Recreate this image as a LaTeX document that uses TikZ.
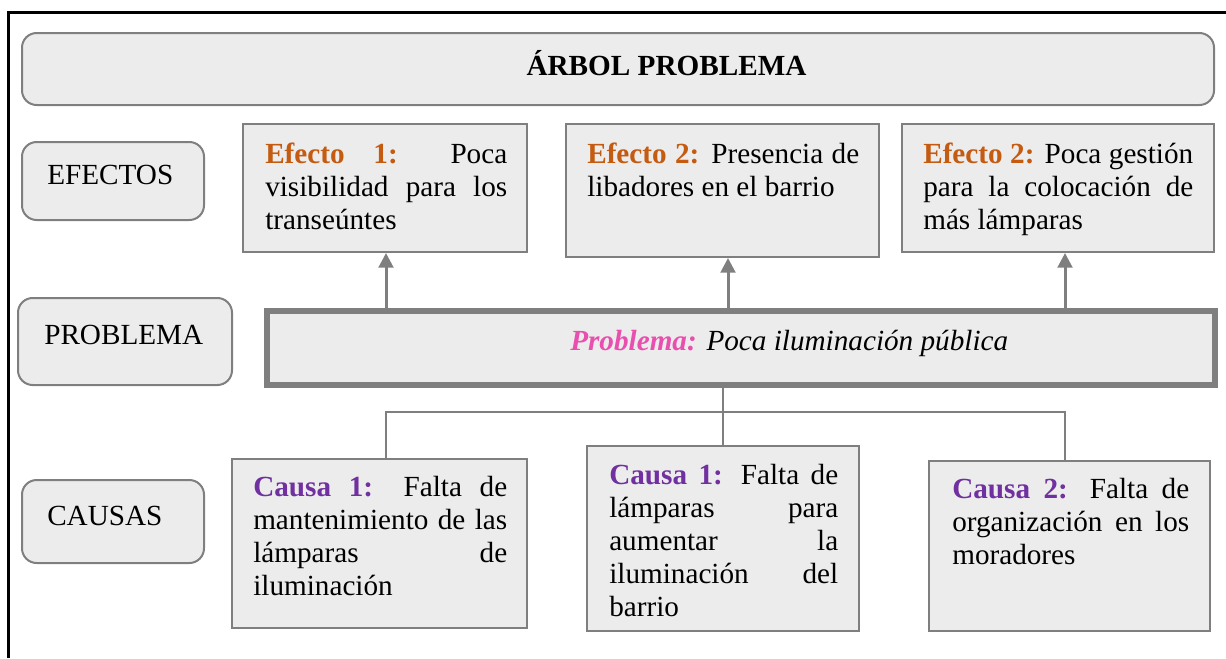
\documentclass[tikz,border=0pt]{standalone}
\usepackage{fontspec}
\setmainfont{Liberation Serif}
\usetikzlibrary{arrows.meta}
\definecolor{boxfill}{HTML}{ECECEC}
\definecolor{boxline}{HTML}{7F7F7F}
\definecolor{efc}{HTML}{C55A11}
\definecolor{cau}{HTML}{7030A0}
\definecolor{prb}{HTML}{E84FAE}
\hbadness=10000
\begin{document}
\begin{tikzpicture}[x=0.75pt,y=-0.75pt,
  every node/.style={font=\fontsize{21.9pt}{24.75pt}\selectfont},
  lblbox/.style={draw=boxline, fill=boxfill, line width=1.5pt, rounded corners=11pt, inner sep=0pt},
  sqbox/.style={draw=boxline, fill=boxfill, line width=1.5pt, inner sep=0pt},
  probbox/.style={draw=boxline, fill=boxfill, line width=4.5pt, inner sep=0pt},
  txt/.style={inner sep=0pt, anchor=base west, align=justify},
  lbltxt/.style={inner sep=0pt, anchor=base west},
  arr/.style={draw=boxline, line width=2.25pt, -{Triangle[length=11pt,width=11pt]}},
  conn/.style={draw=boxline, line width=1.9pt},
  frame/.style={draw=black, line width=2.25pt}
]
\useasboundingbox (0,0) rectangle (1226,658);
\draw[frame] (8,658) -- (8,12) -- (1226,12);

% title
\node[lblbox, minimum width=894pt, minimum height=54pt] (title) at (618,69) {};
\node[lbltxt, anchor=base] (titlet) at (666.5,75) {\textbf{ÁRBOL PROBLEMA}};

% row labels
\node[lblbox, minimum width=136.5pt, minimum height=58.5pt] (lef) at (113,181) {};
\node[lbltxt] (left) at (47,184) {EFECTOS};
\node[lblbox, minimum width=160.5pt, minimum height=65.25pt] (lpr) at (125,341.5) {};
\node[lbltxt] (lprt) at (44,344) {PROBLEMA};
\node[lblbox, minimum width=136.5pt, minimum height=62.25pt] (lca) at (113,521.5) {};
\node[lbltxt] (lcat) at (47,525) {CAUSAS};

% effects
\node[sqbox, minimum width=213pt, minimum height=96pt] (e1) at (385,188) {};
\node[txt, text width=181.5pt] (e1t) at (265,163)
  {\textbf{\color{efc}Efecto 1:} Poca\linebreak visibilidad para los\linebreak transeúntes};
\node[sqbox, minimum width=234.75pt, minimum height=99.75pt] (e2) at (722.5,190.5) {};
\node[txt, text width=204pt] (e2t) at (587,163)
  {\textbf{\color{efc}Efecto 2:} Presencia de\linebreak libadores en el barrio};
\node[sqbox, minimum width=234pt, minimum height=96pt] (e3) at (1058,188) {};
\node[txt, text width=202.5pt] (e3t) at (923,163)
  {\textbf{\color{efc}Efecto 2:} Poca gestión\linebreak para la colocación de\linebreak más lámparas};

% problem
\node[probbox, minimum width=711pt, minimum height=55.5pt] (prob) at (741,348) {};
\node[lbltxt] (probt) at (570,350)
  {\textit{\textbf{\color{prb}Problema:}} \textit{Poca iluminación pública}};

% causes
\node[sqbox, minimum width=221.25pt, minimum height=126.75pt] (c1) at (379.5,543.5) {};
\node[txt, text width=190.5pt] (c1t) at (253,496)
  {\textbf{\color{cau}Causa 1:} Falta de\linebreak mantenimiento de las\linebreak lámparas de\linebreak iluminación};
\node[sqbox, minimum width=204pt, minimum height=138.75pt] (c2) at (723,538.5) {};
\node[txt, text width=171.75pt] (c2t) at (609,484)
  {\textbf{\color{cau}Causa 1:} Falta de\linebreak lámparas para\linebreak aumentar la\linebreak iluminación del\linebreak barrio};
\node[sqbox, minimum width=210.75pt, minimum height=127.5pt] (c3) at (1069.5,546) {};
\node[txt, text width=177.75pt] (c3t) at (952,498)
  {\textbf{\color{cau}Causa 2:} Falta de\linebreak organización en los\linebreak moradores};

% arrows to effects
\draw[arr] (386,0 |- prob.north) -- (386,0 |- e1.south);
\draw[arr] (728,0 |- prob.north) -- (728,0 |- e2.south);
\draw[arr] (1065,0 |- prob.north) -- (1065,0 |- e3.south);

% cause connectors
\coordinate (junc) at (723,412);
\coordinate (bl) at (386,412);
\coordinate (br) at (1065,412);
\draw[conn] (prob.south -| junc) -- (c2.north);
\draw[conn] (c1.north -| bl) -- (bl) -- (br) -- (c3.north -| br);
\end{tikzpicture}
\end{document}
